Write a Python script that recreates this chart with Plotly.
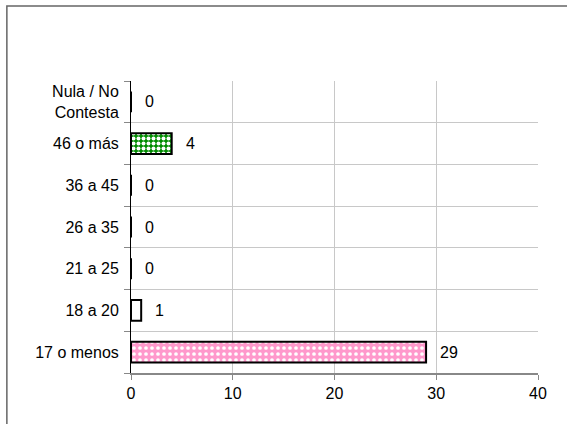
import plotly.graph_objects as go

CATEGORIES = ['17 o menos', '18 a 20', '21 a 25', '26 a 35', '36 a 45', '46 o más', 'Nula / No<br>Contesta']
VALUES = [29, 1, 0, 0, 0, 4, 0]
X_TICKS = [0, 10, 20, 30, 40]

FONT = 'Liberation Sans, Arial, sans-serif'

# fill style per bar: pink checker, green checker, the rest plain white
PINK = ['17 o menos']
GREEN = ['46 o más']

fig = go.Figure()
for cat, val in zip(CATEGORIES, VALUES):
    if cat in PINK:
        pattern = dict(shape='.', bgcolor='#ff99cc', fgcolor='white', size=6, solidity=0.3,
                       fillmode='replace')
    elif cat in GREEN:
        pattern = dict(shape='.', bgcolor='#008c00', fgcolor='white', size=5, solidity=0.5,
                       fillmode='replace')
    else:
        pattern = dict(shape='')
    fig.add_trace(go.Bar(
        y=[cat], x=[val], orientation='h', width=0.5,
        marker=dict(color='white', line=dict(color='black', width=2), pattern=pattern),
        hoverinfo='skip',
    ))
    fig.add_annotation(x=val, y=cat, text=str(val), showarrow=False, xanchor='left',
                       xshift=12, font=dict(size=16, color='black', family=FONT))

# outer frame around the whole picture
fig.add_shape(type='rect', xref='paper', yref='paper', x0=-0.305, x1=1.3, y0=-0.4, y1=1.257,
              line=dict(color='#666666', width=1.5), layer='above')

fig.update_layout(
    width=567, height=424,
    margin=dict(l=131, r=29, t=81, b=51),
    paper_bgcolor='white', plot_bgcolor='white',
    showlegend=False, barmode='overlay',
    font=dict(family=FONT, size=16, color='black'),
    xaxis=dict(
        range=[0, 40], tickvals=X_TICKS, showgrid=True, gridcolor='#c8c8c8', gridwidth=1,
        showline=True, linecolor='#888888', linewidth=1.5,
        ticks='outside', ticklen=5, tickcolor='#888888', zeroline=False,
        tickfont=dict(size=16),
    ),
    yaxis=dict(
        categoryorder='array', categoryarray=CATEGORIES,
        tickson='boundaries', showgrid=True, gridcolor='#c8c8c8', gridwidth=1,
        showline=True, linecolor='black', linewidth=1,
        ticks='outside', ticklen=6, tickcolor='#888888', ticklabelstandoff=8,
        tickfont=dict(size=16), range=[-0.5, 6.5],
    ),
)

fig.write_html('out.html', config={'displayModeBar': False},
               post_script="document.body.style.margin='0';")
